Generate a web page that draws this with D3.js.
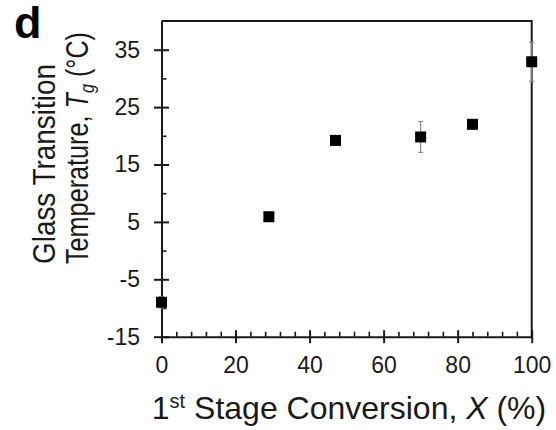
<!DOCTYPE html>
<html>
<head>
<meta charset="utf-8">
<script src="https://cdn.jsdelivr.net/npm/d3@7"></script>
<style>
  body { margin: 0; background: #fff; }
  svg { display: block; font-family: Arial, "Liberation Sans", sans-serif; }
  .axis path, .axis line { stroke: #1a1a1a; }
</style>
</head>
<body>
<div id="chart"></div>
<script>
// 1st stage conversion X (%) vs glass transition temperature Tg (°C)
var conversion = [0, 29, 47, 70, 84, 100];
var tg = [-9.0, 5.9, 19.2, 19.8, 22.0, 32.9];
var tgErr = [1.0, 0.6, 0.6, 2.7, 0.6, 3.4];

var yMajor = [-15, -5, 5, 15, 25, 35],
    yMinor = [-10, 0, 10, 20, 30],
    xMajor = [0, 20, 40, 60, 80, 100],
    xMinor = d3.range(4, 100, 4).filter(function(d) { return d % 20 != 0; });

var margin = {top: 21, right: 24.3, bottom: 93.3, left: 161.5},
    W = 556, H = 430,
    width = W - margin.left - margin.right,
    height = H - margin.top - margin.bottom;

var x = d3.scaleLinear().domain([0, 100]).range([0, width]);
var y = d3.scaleLinear().domain([-15, 40]).range([height, 0]);

// plain hyphen for negatives, like the original
var fmt = function(d) { return String(d); };

var svg = d3.select("#chart").append("svg")
    .attr("width", W)
    .attr("height", H);

var g = svg.append("g")
    .attr("transform", "translate(" + margin.left + "," + margin.top + ")");

// frame (top + right)
g.append("path")
    .attr("d", "M0,0H" + width + "V" + height)
    .style("fill", "none")
    .style("stroke", "#1a1a1a")
    .style("stroke-width", 2);

// y axis, major ticks cross the line
var yAx = g.append("g")
    .attr("class", "axis")
    .call(d3.axisLeft(y).tickValues(yMajor).tickFormat(fmt).tickSize(7.5).tickSizeOuter(0).tickPadding(14));
yAx.select(".domain").style("stroke-width", 2);
yAx.selectAll(".tick line").attr("x1", 7.5).style("stroke-width", 2);
yAx.selectAll(".tick text")
    .style("font-size", "23px")
    .style("fill", "#1a1a1a");

g.append("g")
    .attr("class", "axis")
    .call(d3.axisRight(y).tickValues(yMinor).tickSize(5).tickFormat(""))
  .call(function(s) { s.select(".domain").remove(); })
  .selectAll(".tick line").style("stroke-width", 1.6);

// x axis
var xAx = g.append("g")
    .attr("class", "axis")
    .attr("transform", "translate(0," + height + ")")
    .call(d3.axisBottom(x).tickValues(xMajor).tickFormat(fmt).tickSize(6.5).tickSizeOuter(0).tickPadding(13));
xAx.select(".domain").style("stroke-width", 2);
xAx.selectAll(".tick line").attr("y1", -6.5).style("stroke-width", 2);
xAx.selectAll(".tick text")
    .style("font-size", "23px")
    .style("fill", "#1a1a1a");

g.append("g")
    .attr("class", "axis")
    .attr("transform", "translate(0," + height + ")")
    .call(d3.axisTop(x).tickValues(xMinor).tickSize(5).tickFormat(""))
  .call(function(s) { s.select(".domain").remove(); })
  .selectAll(".tick line").style("stroke-width", 1.6);

// error bars
var pts = conversion.map(function(c, i) { return {x: c, y: tg[i], e: tgErr[i]}; });

var eb = g.selectAll(".err")
    .data(pts)
  .enter().append("g")
    .attr("class", "err")
    .style("stroke", "#8a8a8a")
    .style("stroke-width", 1.2);
eb.append("line")
    .attr("x1", function(d) { return x(d.x); })
    .attr("x2", function(d) { return x(d.x); })
    .attr("y1", function(d) { return y(d.y - d.e); })
    .attr("y2", function(d) { return y(d.y + d.e); });
[-1, 1].forEach(function(s) {
  eb.append("line")
      .attr("x1", function(d) { return x(d.x) - 2.5; })
      .attr("x2", function(d) { return x(d.x) + 2.5; })
      .attr("y1", function(d) { return y(d.y + s * d.e); })
      .attr("y2", function(d) { return y(d.y + s * d.e); });
});

// markers
var sz = 11;
g.selectAll(".pt")
    .data(pts)
  .enter().append("rect")
    .attr("class", "pt")
    .attr("x", function(d) { return x(d.x) - sz / 2; })
    .attr("y", function(d) { return y(d.y) - sz / 2; })
    .attr("width", sz)
    .attr("height", sz)
    .style("fill", "#000");

// panel letter
svg.append("text")
    .attr("x", 14)
    .attr("y", 38)
    .style("font-size", "45px")
    .style("font-weight", "bold")
    .style("fill", "#000")
    .text("d");

// y label (two lines, rotated) - squeezed a bit along the line like the original
var yl = svg.append("g")
    .attr("transform", "translate(0,264) rotate(-90)")
    .style("font-size", "31px")
    .style("fill", "#1a1a1a");
yl.append("text")
    .attr("x", 0)
    .attr("y", 55)
    .attr("textLength", 200)
    .attr("lengthAdjust", "spacingAndGlyphs")
    .text("Glass Transition");
var yl2 = yl.append("text")
    .attr("x", 0)
    .attr("y", 88)
    .attr("textLength", 232)
    .attr("lengthAdjust", "spacingAndGlyphs");
yl2.append("tspan").text("Temperature, ");
yl2.append("tspan").style("font-style", "italic").text("T");
yl2.append("tspan").attr("dy", 6).style("font-size", "20px").style("font-style", "italic").text("g");
yl2.append("tspan").attr("dy", -6).text(" (°C)");

// x label
var xl = svg.append("text")
    .attr("x", 349)
    .attr("y", 419)
    .attr("text-anchor", "middle")
    .style("font-size", "32px")
    .style("fill", "#1a1a1a");
xl.append("tspan").text("1");
xl.append("tspan").attr("dy", -11).style("font-size", "20px").text("st");
xl.append("tspan").attr("dy", 11).text(" Stage Conversion, ");
xl.append("tspan").style("font-style", "italic").text("X");
xl.append("tspan").text(" (%)");
</script>
</body>
</html>
